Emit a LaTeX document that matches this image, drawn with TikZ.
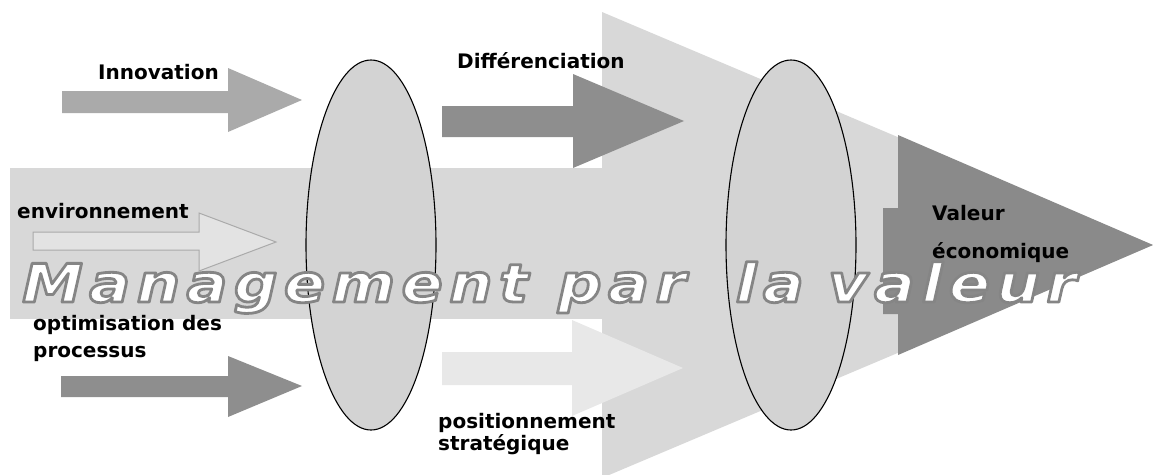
\documentclass[tikz,border=0pt]{standalone}
\usepackage{fontspec}
\setmainfont{DejaVu Sans}
\newfontfamily\titlefont[FakeStretch=1.15,LetterSpace=12]{DejaVu Sans}
% texte plein blanc avec contour gris (mode de rendu pdf)
\newcommand\contourtitre[1]{\special{pdf:literal direct 0.52 G 2.8 w 1 j 2 Tr}#1\special{pdf:literal direct 0 Tr}}
\definecolor{fondgris}{HTML}{D8D8D8}
\definecolor{ovalgris}{HTML}{D3D3D3}
\definecolor{flechemoyen}{HTML}{AAAAAA}
\definecolor{flechefonce}{HTML}{8E8E8E}
\definecolor{flecheclair}{HTML}{E8E8E8}
\definecolor{valeurgris}{HTML}{8A8A8A}

\begin{document}
\begin{tikzpicture}[x=1pt,y=-1pt,
  etiquette/.style={inner sep=0pt, anchor=base west, align=left,
    font=\fontsize{20}{27}\selectfont\bfseries},
  ovale/.style={draw=black, line width=1.1pt, fill=ovalgris}]
\useasboundingbox (0,0) rectangle (1153,474);
\clip (0,0) rectangle (1153,474);
% fond : grand triangle et bande
\fill[fondgris] (602,12) -- (1153,245) -- (602,478) -- cycle;
\fill[fondgris] (10,168) rectangle (602,319);
% zone valeur economique
\fill[valeurgris] (898,135) -- (1153,245) -- (898,355) -- (898,314)
  -- (883,314) -- (883,208) -- (898,208) -- cycle;
% fleches
\fill[flechemoyen] (62,91) -- (228,91) -- (228,68) -- (302,100)
  -- (228,132) -- (228,113) -- (62,113) -- cycle;
\fill[flechefonce] (442,106) -- (573,106) -- (573,74) -- (684,121)
  -- (573,168) -- (573,137) -- (442,137) -- cycle;
\filldraw[fill=flecheclair!70!fondgris, draw=flechemoyen, line width=1pt]
  (33,232) -- (199,232) -- (199,213) -- (276,242)
  -- (199,271) -- (199,250) -- (33,250) -- cycle;
\fill[flechefonce] (61,376) -- (228,376) -- (228,356) -- (302,386)
  -- (228,417) -- (228,397) -- (61,397) -- cycle;
\fill[flecheclair] (442,352) -- (572,352) -- (572,320) -- (683,368)
  -- (572,416) -- (572,385) -- (442,385) -- cycle;
% ovales
\draw[ovale] (371,245) ellipse [x radius=65, y radius=185];
\draw[ovale] (791,245) ellipse [x radius=65, y radius=185];
% textes (ancre base = derniere ligne)
\node[etiquette] (innov) at (98,79) {Innovation};
\node[etiquette] (diff) at (457,68) {Différenciation};
\node[etiquette] (envir) at (17,218) {environnement};
\node[etiquette, font=\fontsize{20}{38}\selectfont\bfseries] (valeur) at (932,258) {Valeur\\économique};
\node[etiquette] (optim) at (33,357) {optimisation des\\processus};
\node[etiquette, font=\fontsize{20}{22}\selectfont\bfseries] (posit) at (438,450) {positionnement\\stratégique};
% titre
\node[inner sep=0pt, anchor=base west, text=white,
  font=\titlefont\fontsize{53}{60}\selectfont\bfseries\itshape] (titre) at (22,302)
  {\contourtitre{Management\hspace{30pt}par\hspace{50pt}la\hspace{24pt}valeur}};
\end{tikzpicture}
\end{document}
